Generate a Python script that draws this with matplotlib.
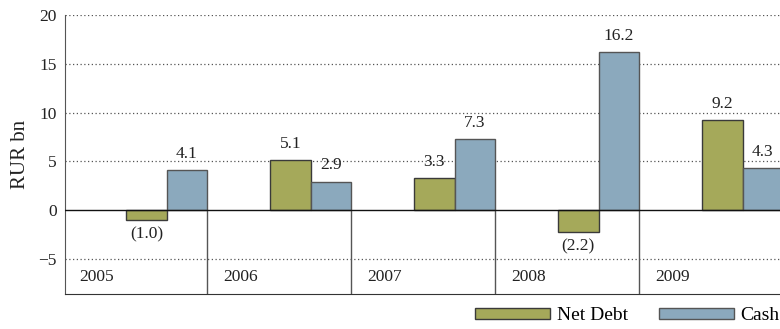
import numpy as np
import matplotlib.pyplot as plt
from matplotlib.patches import Patch

years = ["2005", "2006", "2007", "2008", "2009"]
net_debt = [-1.0, 5.1, 3.3, -2.2, 9.2]
cash = [4.1, 2.9, 7.3, 16.2, 4.3]
net_debt_labels = ["(1.0)", "5.1", "3.3", "(2.2)", "9.2"]
cash_labels = ["4.1", "2.9", "7.3", "16.2", "4.3"]

debt_color = "#a5a95a"
cash_color = "#8ba9bd"
edge_color = "#3a3a3a"

plt.rcParams['font.family'] = ['Liberation Serif', 'DejaVu Serif']

fig = plt.figure(figsize=(7.8, 3.29), dpi=100)
ax = fig.add_axes([65 / 780, 1 - 294 / 329, 1 - 65 / 780, (294 - 15) / 329])

x = np.arange(len(years))
bar_w = 0.28
off = 0.985
ax.bar(x + off - 1.5 * bar_w, net_debt, width=bar_w, color=debt_color,
       edgecolor=edge_color, linewidth=1.0, zorder=3)
ax.bar(x + off - 0.5 * bar_w, cash, width=bar_w, color=cash_color,
       edgecolor="#555555", linewidth=1.0, zorder=3)

## value labels
for xi, v, lab in zip(x + off - 1.5 * bar_w, net_debt, net_debt_labels):
    if v >= 0:
        ax.annotate(lab, (xi, v), xytext=(0, 6), textcoords="offset points",
                    ha="center", va="bottom", fontsize=12.5, color="#222222")
    else:
        ax.annotate(lab, (xi, v), xytext=(0, -5), textcoords="offset points",
                    ha="center", va="top", fontsize=12.5, color="#222222")
for xi, v, lab in zip(x + off - 0.5 * bar_w, cash, cash_labels):
    ax.annotate(lab, (xi, v), xytext=(0, 6), textcoords="offset points",
                ha="center", va="bottom", fontsize=12.5, color="#222222")

## year labels and separators
for i, yr in enumerate(years):
    ax.text(i + 0.1, -6.9, yr, ha="left", va="center", fontsize=12.5, color="#222222")
for i in range(1, len(years)):
    ax.plot([i - 0.015, i - 0.015], [0, -8.6], color="#555555", linewidth=1.0, zorder=2)

ax.axhline(0, color="#111111", linewidth=1.0, zorder=4)
for gy in [-5, 5, 10, 15, 20]:
    ax.axhline(gy, color="#555555", linewidth=0.9, linestyle=(0, (1, 2)), zorder=1)

ax.set_xlim(0, 715 / 144)
ax.set_ylim(-8.6, 20)
ax.set_yticks([-5, 0, 5, 10, 15, 20])
ax.set_yticklabels(["\u22125", "0", "5", "10", "15", "20"])
ax.set_xticks([])
ax.tick_params(axis="y", length=0, pad=6, labelsize=12.5, labelcolor="#222222")
for s in ["top", "right"]:
    ax.spines[s].set_visible(False)
ax.spines["left"].set_color("#555555")
ax.spines["bottom"].set_color("#333333")
ax.set_ylabel("RUR bn", fontsize=15, color="#222222", labelpad=6)

handles = [Patch(facecolor=debt_color, edgecolor=edge_color, label="Net Debt"),
           Patch(facecolor=cash_color, edgecolor="#555555", label="Cash")]
fig.legend(handles=handles, loc="center left", bbox_to_anchor=(475 / 780, 1 - 316 / 329),
           ncol=2, frameon=False, fontsize=14, handlelength=3.85, handleheight=0.5,
           handletextpad=0.35, columnspacing=1.6, borderpad=0, borderaxespad=0)

fig.savefig("out.png", dpi=100)
